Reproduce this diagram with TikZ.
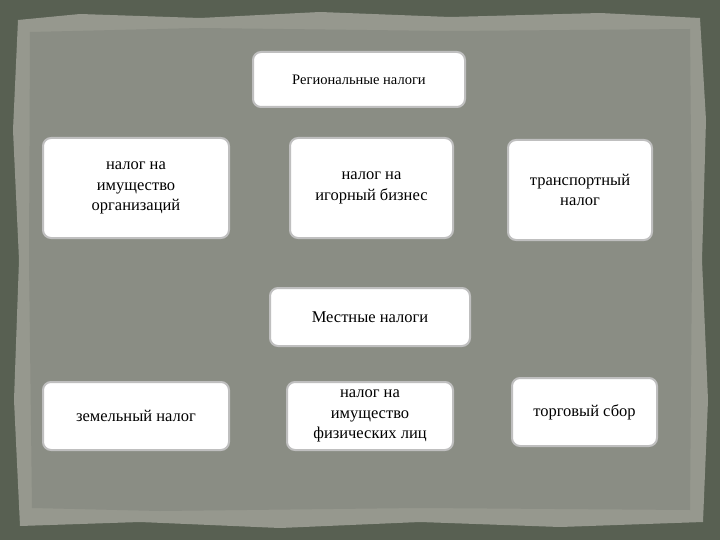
\documentclass[tikz,border=0pt]{standalone}
\usepackage{fontspec}
\setmainfont{Liberation Serif}
\begin{document}
\begin{tikzpicture}[x=1pt,y=-1pt,
  box/.style={draw=black!25,line width=2pt,fill=white,rounded corners=8pt,align=center,font=\fontsize{16.5}{20.5}\selectfont,inner sep=0pt}]
\useasboundingbox (0,0) rectangle (720,540);
\fill[fill={rgb,255:red,88;green,96;blue,82}] (0,0) rectangle (720,540);
\fill[fill={rgb,255:red,150;green,152;blue,142}] (18,20) -- (80,14) -- (200,18) -- (320,12) -- (450,17) -- (600,13) -- (700,18) -- (706,120) -- (702,260) -- (708,400) -- (703,522) -- (560,527) -- (420,522) -- (280,528) -- (140,522) -- (20,526) -- (14,400) -- (19,260) -- (13,130) -- cycle;
\fill[fill={rgb,255:red,138;green,141;blue,132}] (30,32) -- (200,28) -- (450,31) -- (690,29) -- (692,260) -- (690,510) -- (420,508) -- (160,511) -- (32,508) -- (29,260) -- cycle;
\node[box,minimum width=212pt,minimum height=55pt,font=\fontsize{14.5}{17}\selectfont] (reg) at (359,79.5) {Региональные налоги};
\node[box,minimum width=186pt,minimum height=100pt] (a) at (136,188) {налог на\\имущество\\организаций};
\node[box,minimum width=163pt,minimum height=100pt] (b) at (371.5,188) {налог на\\игорный бизнес};
\node[box,minimum width=144pt,minimum height=100pt] (c) at (580,190) {транспортный\\налог};
\node[box,minimum width=200pt,minimum height=58pt] (loc) at (370,317) {Местные налоги};
\node[box,minimum width=186pt,minimum height=68pt] (d) at (136,416) {земельный налог};
\node[box,minimum width=166pt,minimum height=68pt] (e) at (370,416) {налог на\\имущество\\физических лиц};
\node[box,minimum width=145pt,minimum height=68pt] (f) at (584.5,412) {торговый сбор};
\end{tikzpicture}
\end{document}
